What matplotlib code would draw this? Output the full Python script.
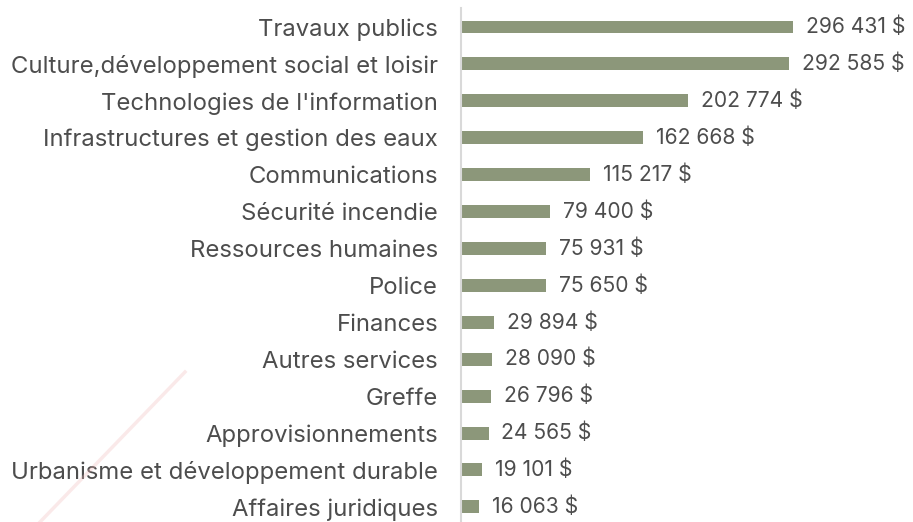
import matplotlib.pyplot as plt
import numpy as np

categories = ["Travaux publics", "Culture,développement social et loisir",
              "Technologies de l'information", "Infrastructures et gestion des eaux",
              "Communications", "Sécurité incendie", "Ressources humaines", "Police",
              "Finances", "Autres services", "Greffe", "Approvisionnements",
              "Urbanisme et développement durable", "Affaires juridiques"]
values = [296431, 292585, 202774, 162668, 115217, 79400, 75931, 75650,
          29894, 28090, 26796, 24565, 19101, 16063]

plt.rcParams['font.family'] = ['Inter', 'DejaVu Sans']

fig = plt.figure(figsize=(9.13, 5.22), dpi=100)
ax = fig.add_axes([461/913, 0, 1 - 461/913, 514/522])

y = np.arange(len(values))
ax.barh(y, values, height=0.35, color="#8c977a")
for yi, v in zip(y, values):
    lab = f"{v:,}".replace(",", " ") + " $"
    ax.text(v + 11500, yi, lab, va="center", ha="left", fontsize=15.2, color="#4d4d4d")

ax.set_yticks(y)
ax.set_yticklabels(categories, fontsize=17.2, color="#4d4d4d")
ax.tick_params(axis="y", length=0, pad=16.5)
ax.set_xticks([])
ax.set_xlim(0, 296431 * 452 / 332)
ax.set_ylim(13.41, -0.515)
for s in ["top", "right", "bottom"]:
    ax.spines[s].set_visible(False)
ax.spines["left"].set_color("#d9d9d9")
ax.spines["left"].set_linewidth(1.5)

# faint watermark stroke
fig.add_artist(plt.Line2D([40/913, 185/913], [0, 1 - 372/522],
                          color="#f0b8b8", alpha=0.3, lw=2.5))

fig.savefig("out.png", dpi=100)
